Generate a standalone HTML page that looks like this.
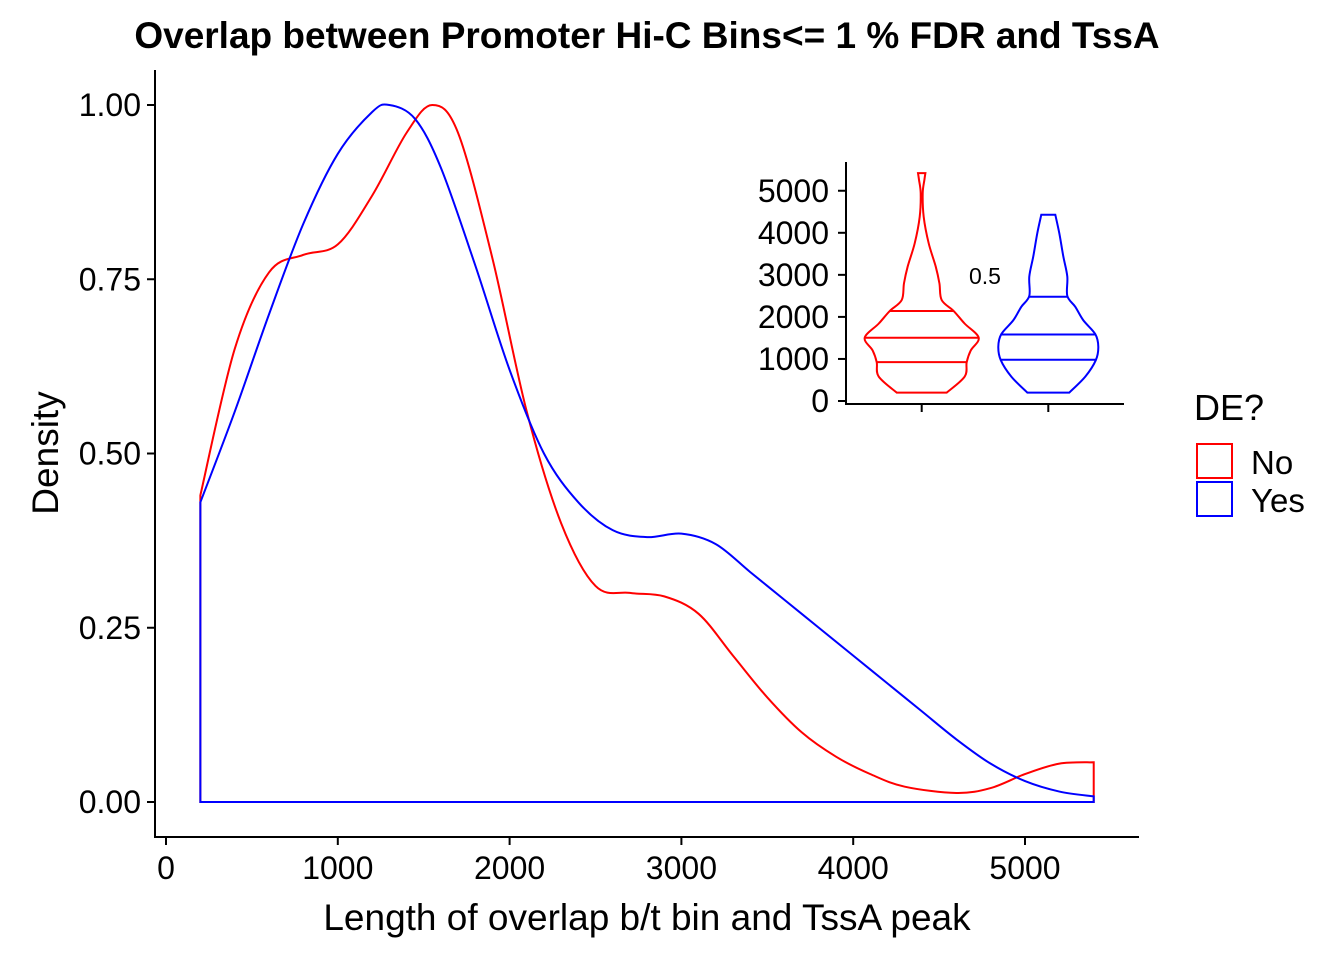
<!DOCTYPE html>
<html><head><meta charset="utf-8"><style>
body{margin:0;background:#fff;font-family:"Liberation Sans",Arial,sans-serif}
svg text{font-family:"Liberation Sans",Arial,sans-serif}
</style></head><body>
<svg id="c" width="1344" height="960" xmlns="http://www.w3.org/2000/svg">
<text x="647" y="48" text-anchor="middle" font-size="37" font-weight="bold">Overlap between Promoter Hi-C Bins&lt;= 1 % FDR and TssA</text>
<g id="main"></g>
<g id="inset"></g>
<text x="1194" y="420" font-size="36">DE?</text>
<rect x="1197" y="444" width="35" height="34" fill="none" stroke="#f00" stroke-width="2"/>
<text x="1251" y="474" font-size="33">No</text>
<rect x="1197" y="482" width="35" height="34" fill="none" stroke="#00f" stroke-width="2"/>
<text x="1251" y="512" font-size="33">Yes</text>
</svg>
<script>
const xTicks=[0,1000,2000,3000,4000,5000];
const yTicks=[0,0.25,0.5,0.75,1.0];
const yTickLabels=["0.00","0.25","0.50","0.75","1.00"];
const redX=[200,400,600,800,1000,1200,1400,1550,1700,1900,2100,2300,2500,2700,2900,3100,3300,3500,3700,3900,4100,4300,4600,4800,5000,5200,5400];
const redY=[0.44,0.65,0.76,0.785,0.80,0.87,0.96,1.0,0.96,0.78,0.56,0.40,0.31,0.30,0.295,0.27,0.21,0.15,0.10,0.065,0.04,0.022,0.013,0.02,0.04,0.055,0.057];
const blueX=[200,400,600,800,1000,1200,1300,1450,1600,1800,2000,2200,2400,2600,2800,3000,3200,3400,3600,3800,4000,4200,4400,4600,4800,5000,5200,5400];
const blueY=[0.43,0.56,0.70,0.83,0.93,0.99,1.0,0.98,0.91,0.77,0.62,0.50,0.43,0.39,0.38,0.385,0.37,0.33,0.29,0.25,0.21,0.17,0.13,0.09,0.055,0.03,0.015,0.008];
const insetTicks=[0,1000,2000,3000,4000,5000];
const violinNoV=[200,580,925,1200,1505,1840,2140,2400,2800,3200,3750,4380,4940,5260,5420];
const violinNoW=[25,43,45,49,57,43,32,20,17.7,14,7,2,1,2.7,3.7];
const violinYesV=[200,580,970,1290,1590,1920,2240,2500,2960,3440,3990,4430];
const violinYesW=[21,37,47.5,50,47,35,27,19,19,15,11,7];
const quantNo=[925,1505,2140];
const quantYes=[980,1580,2480];
const pLabel="0.5";

const NS="http://www.w3.org/2000/svg";
function mk(t,a,p){const e=document.createElementNS(NS,t);for(const k in a)e.setAttribute(k,a[k]);p.appendChild(e);return e;}
const X=v=>166+v*(1025-166)/5000, Y=v=>802-v*697;
const m=document.getElementById('main');
let e=mk('path',{d:'M155,70V837H1139',fill:'none',stroke:'#000','stroke-width':2},m);


xTicks.forEach(v=>{
 let t=mk('line',{x1:X(v),x2:X(v),y1:837,y2:845,stroke:'#000','stroke-width':2},m);
 
 
 let l=mk('text',{x:X(v),y:879,'text-anchor':'middle','font-size':32},m);l.textContent=v;
 
 
});
yTicks.forEach((v,i)=>{
 let t=mk('line',{x1:147,x2:155,y1:Y(v),y2:Y(v),stroke:'#000','stroke-width':2},m);
 
 
 let l=mk('text',{x:141,y:Y(v)+11,'text-anchor':'end','font-size':32},m);l.textContent=yTickLabels[i];
 
 
});
let xt=mk('text',{x:647,y:930,'text-anchor':'middle','font-size':37},m);xt.textContent='Length of overlap b/t bin and TssA peak';


let yt=mk('text',{x:58,y:453,'text-anchor':'middle','font-size':37,transform:'rotate(-90 58 453)'},m);yt.textContent='Density';



function smooth(pts){let d='M'+pts[0][0]+','+pts[0][1];
 for(let i=0;i<pts.length-1;i++){const p0=pts[Math.max(0,i-1)],p1=pts[i],p2=pts[i+1],p3=pts[Math.min(pts.length-1,i+2)];
 d+=`C${p1[0]+(p2[0]-p0[0])/6},${p1[1]+(p2[1]-p0[1])/6} ${p2[0]-(p3[0]-p1[0])/6},${p2[1]-(p3[1]-p1[1])/6} ${p2[0]},${p2[1]}`;}return d;}
function dens(xs,ys,col,name){
 const pts=xs.map((x,i)=>[X(x),Y(ys[i])]);
 const d='M'+X(xs[0])+','+Y(0)+'L'+smooth(pts).slice(1)+'L'+X(xs[xs.length-1])+','+Y(0)+'Z';
 const p=mk('path',{d:d,fill:'none',stroke:col,'stroke-width':2},m);
 
 
}
dens(redX,redY,'#f00','density-no');
dens(blueX,blueY,'#00f','density-yes');

const g=document.getElementById('inset');
const IY=v=>401-v*0.04205;
e=mk('path',{d:'M846,162V404H1124',fill:'none',stroke:'#000','stroke-width':2},g);


insetTicks.forEach(v=>{
 let t=mk('line',{x1:838,x2:846,y1:IY(v),y2:IY(v),stroke:'#000','stroke-width':2},g);
 
 
 let l=mk('text',{x:829,y:IY(v)+11,'text-anchor':'end','font-size':32},g);l.textContent=v;
 
 
});
[921.7,1048.3].forEach(cx=>{let t=mk('line',{x1:cx,x2:cx,y1:404,y2:412,stroke:'#000','stroke-width':2},g);
 
 });
function violin(cx,vs,ws,qs,col,name){
 const right=vs.map((v,i)=>[cx+ws[i],IY(v)]);
 const left=vs.map((v,i)=>[cx-ws[i],IY(v)]).reverse();
 const d=smooth(right)+'L'+smooth(left).slice(1)+'Z';
 const p=mk('path',{d:d,fill:'none',stroke:col,'stroke-width':2},g);
 
 
 qs.forEach(q=>{let k=0;while(k<vs.length-2&&vs[k+1]<q)k++;
  const w=ws[k]+(ws[k+1]-ws[k])*(q-vs[k])/(vs[k+1]-vs[k]);
  const l=mk('line',{x1:cx-w,x2:cx+w,y1:IY(q),y2:IY(q),stroke:col,'stroke-width':2},g);
  
  });
}
violin(921.7,violinNoV,violinNoW,quantNo,'#f00','violin-no');
violin(1048.3,violinYesV,violinYesW,quantYes,'#00f','violin-yes');
let pl=mk('text',{x:985,y:284,'text-anchor':'middle','font-size':23},g);pl.textContent=pLabel;


</script>
</body></html>
